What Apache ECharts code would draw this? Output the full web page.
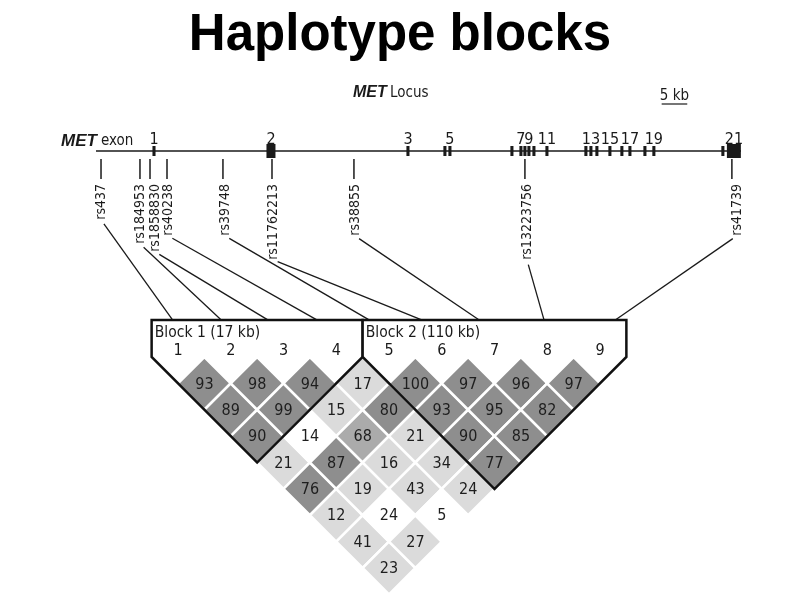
<!DOCTYPE html>
<html>
<head>
<meta charset="utf-8">
<script src="https://cdn.jsdelivr.net/npm/echarts@6/dist/echarts.min.js"></script>
<style>
html, body { margin: 0; padding: 0; background: #fff; }
#chart { width: 800px; height: 600px; }
</style>
</head>
<body>
<div id="chart"></div>
<script>
// MET locus: exons (kb from start of locus)
var locusKb = 126;
var exonNames = ['1', '2', '3', '4', '5', '6', '7', '8', '9', '10', '11', '12', '13', '14', '15', '16', '17', '18', '19', '20', '21'];
var exonLabels = ['1', '2', '3', '', '5', '', '7', '', '9', '', '11', '', '13', '', '15', '', '17', '', '19', '', '21'];
var exonKb = [11.33, 34.18, 60.94, 68.16, 69.14, 81.25, 83.01, 83.79, 84.57, 85.55, 88.09, 95.70, 96.68, 97.85, 100.39, 102.73, 104.30, 107.23, 108.98, 122.46, 124.61];
var exonLenKb = [0.6, 1.76, 0.6, 0.6, 0.6, 0.6, 0.6, 0.6, 0.6, 0.6, 0.6, 0.6, 0.6, 0.6, 0.6, 0.6, 0.6, 0.6, 0.6, 0.6, 2.73];

// SNPs
var snpNames = ['rs437', 'rs184953', 'rs1858830', 'rs40238', 'rs39748', 'rs11762213', 'rs38855', 'rs13223756', 'rs41739'];
var snpKb = [0.98, 8.59, 10.55, 13.87, 24.80, 34.38, 50.39, 83.79, 124.22];
// where each connector meets the top of the block header (in LD column units)
var snpAnchor = [0.90, 1.82, 2.71, 3.64, 4.63, 5.63, 6.71, 7.94, 9.29];

// pairwise LD, row k = SNP k+1 against SNP k+2 ... SNP 9
var ldValues = [
  [93, 89, 90, 21, 76, 12, 41, 23],
  [98, 99, 14, 87, 19, 24, 27],
  [94, 15, 68, 16, 43, 5],
  [17, 80, 21, 34, 24],
  [100, 93, 90, 77],
  [97, 95, 85],
  [96, 82],
  [97]
];
// shading class of each cell: d = strong, m = medium, l = weak, w = none
var ldShade = [
  ['d', 'd', 'd', 'l', 'd', 'l', 'l', 'l'],
  ['d', 'd', 'w', 'd', 'l', 'w', 'l'],
  ['d', 'l', 'm', 'l', 'l', 'w'],
  ['l', 'd', 'l', 'l', 'l'],
  ['d', 'd', 'd', 'd'],
  ['d', 'd', 'd'],
  ['d', 'd'],
  ['d']
];

// haplotype blocks
var blockNames = ['Block 1 (17 kb)', 'Block 2 (110 kb)'];
var blockStart = [1, 5];
var blockEnd = [4, 9];

var scaleBarKb = 5;

var NARROW = '"DejaVu Sans Condensed", "Liberation Sans Narrow", sans-serif';
var SANS = '"Liberation Sans", Arial, sans-serif';
var shadeColor = { d: '#8e8e8e', m: '#ababab', l: '#dbdbdb', w: '#ffffff' };
var labelNudge = [0, 0, 5, 1, 2, 1, 1, 2, 5]; // spread crowded rs labels a bit

var cells = [];
ldValues.forEach(function (row, k) {
  row.forEach(function (v, m) {
    cells.push({ i: k + 1, j: k + 2 + m, v: v, s: ldShade[k][m] });
  });
});

var chart = echarts.init(document.getElementById('chart'));

var option = {
  animation: false,
  grid: [
    { left: 96, right: 59, top: 141, height: 20 },
    { left: 125.25, right: 147.25, top: 304.25, height: 290.125 }
  ],
  xAxis: [
    { gridIndex: 0, type: 'value', min: 0, max: locusKb, show: false },
    { gridIndex: 1, type: 'value', min: 0, max: 10, show: false }
  ],
  yAxis: [
    { gridIndex: 0, type: 'value', min: -1, max: 1, show: false },
    { gridIndex: 1, type: 'value', min: -1, max: 4.5, inverse: true, show: false }
  ],
  series: [
    {
      // gene backbone
      type: 'line', xAxisIndex: 0, yAxisIndex: 0, z: 1, silent: true,
      data: [[0, 0], [locusKb, 0]], symbol: 'none',
      lineStyle: { color: '#1a1a1a', width: 1.5 }
    },
    {
      // exons
      type: 'custom', xAxisIndex: 0, yAxisIndex: 0, z: 2, silent: true,
      data: exonKb.map(function (kb, i) { return [kb, exonLenKb[i]]; }),
      renderItem: function (params, api) {
        var kb = api.value(0), len = api.value(1);
        var a = api.coord([kb - len / 2, 0]);
        var b = api.coord([kb + len / 2, 0]);
        var w = Math.max(b[0] - a[0], 3);
        var h = len > 1 ? 14 : 10;
        var cx = (a[0] + b[0]) / 2;
        return {
          type: 'group',
          children: [
            { type: 'rect', shape: { x: cx - w / 2, y: a[1] - h / 2, width: w, height: h }, style: { fill: '#1a1a1a' } },
            {
              type: 'text', x: cx, y: a[1] - 11,
              style: { text: exonLabels[params.dataIndex], font: '16px ' + NARROW, fill: '#1a1a1a', align: 'center', verticalAlign: 'middle' }
            }
          ]
        };
      }
    },
    {
      // SNP ticks and names
      type: 'custom', xAxisIndex: 0, yAxisIndex: 0, z: 2, silent: true,
      data: snpKb.map(function (kb, i) { return [kb, i]; }),
      renderItem: function (params, api) {
        var p = api.coord([api.value(0), 0]);
        var k = params.dataIndex;
        return {
          type: 'group',
          children: [
            { type: 'line', shape: { x1: p[0], y1: p[1] + 8, x2: p[0], y2: p[1] + 28 }, style: { stroke: '#1a1a1a', lineWidth: 1.5 } },
            {
              type: 'text', x: p[0] + labelNudge[k], y: p[1] + 33, rotation: Math.PI / 2,
              style: { text: snpNames[k], font: '14px ' + NARROW, fill: '#1a1a1a', align: 'right', verticalAlign: 'middle' }
            }
          ]
        };
      }
    },
    {
      // LD cells
      type: 'custom', xAxisIndex: 1, yAxisIndex: 1, z: 2, silent: true,
      data: cells.map(function (c) { return [c.i, c.j, c.v]; }),
      renderItem: function (params, api) {
        var c = cells[params.dataIndex];
        var cx = (c.i + c.j) / 2, cy = (c.j - c.i) / 2;
        var pts = [[cx - 0.5, cy], [cx, cy - 0.5], [cx + 0.5, cy], [cx, cy + 0.5]].map(function (q) { return api.coord(q); });
        var ctr = api.coord([cx, cy]);
        return {
          type: 'group',
          children: [
            { type: 'polygon', shape: { points: pts }, style: { fill: shadeColor[c.s], stroke: '#fff', lineWidth: 2.5 } },
            {
              type: 'text', x: ctr[0], y: ctr[1] + 1,
              style: { text: String(c.v), font: '16px ' + NARROW, fill: '#1e1e1e', align: 'center', verticalAlign: 'middle' }
            }
          ]
        };
      }
    },
    {
      // block outlines
      type: 'custom', xAxisIndex: 1, yAxisIndex: 1, z: 3, silent: true,
      data: blockStart.map(function (a, i) { return [a, blockEnd[i]]; }),
      renderItem: function (params, api) {
        var a = api.value(0), b = api.value(1);
        var tl = api.coord([a - 0.5, -0.7]);
        var br = api.coord([b + 0.5, 0]);
        var pts = [
          [a - 0.5, 0], [a - 0.5, -0.7], [b + 0.5, -0.7], [b + 0.5, 0], [(a + b) / 2, (b - a + 1) / 2]
        ].map(function (q) { return api.coord(q); });
        var lab = api.coord([a - 0.5 + 0.06, -0.45]);
        return {
          type: 'group',
          children: [
            { type: 'rect', shape: { x: tl[0], y: tl[1], width: br[0] - tl[0], height: br[1] - tl[1] }, style: { fill: '#fff' } },
            { type: 'polygon', shape: { points: pts }, style: { fill: 'none', stroke: '#111', lineWidth: 2.5, lineJoin: 'miter' } },
            {
              type: 'text', x: lab[0], y: lab[1],
              style: { text: blockNames[params.dataIndex], font: '15.5px ' + NARROW, fill: '#1a1a1a', align: 'left', verticalAlign: 'middle' }
            }
          ]
        };
      }
    },
    {
      // SNP column numbers
      type: 'custom', xAxisIndex: 1, yAxisIndex: 1, z: 4, silent: true,
      data: snpNames.map(function (n, k) { return [k + 1, -0.12]; }),
      renderItem: function (params, api) {
        var p = api.coord([api.value(0), api.value(1)]);
        return {
          type: 'text', x: p[0], y: p[1],
          style: { text: String(params.dataIndex + 1), font: '16px ' + NARROW, fill: '#1a1a1a', align: 'center', verticalAlign: 'middle' }
        };
      }
    }
  ]
};

chart.setOption(option);

// second pass: connectors between map and LD plot, scale bar, captions
var ctx = document.createElement('canvas').getContext('2d');
ctx.font = '14px ' + NARROW;
var graphics = [];
snpNames.forEach(function (n, k) {
  var top = chart.convertToPixel({ gridIndex: 0 }, [snpKb[k], 0]);
  var bot = chart.convertToPixel({ gridIndex: 1 }, [snpAnchor[k], -0.7]);
  var x0 = top[0] + labelNudge[k];
  var y0 = top[1] + 33 + ctx.measureText(n).width;
  var dx = bot[0] - x0, dy = bot[1] - y0, len = Math.sqrt(dx * dx + dy * dy);
  graphics.push({
    type: 'line', silent: true,
    shape: { x1: x0 + dx / len * 5, y1: y0 + dy / len * 5, x2: bot[0], y2: bot[1] },
    style: { stroke: '#1a1a1a', lineWidth: 1.3 }
  });
});

var s0 = chart.convertToPixel({ gridIndex: 0 }, [110.5, 0]);
var s1 = chart.convertToPixel({ gridIndex: 0 }, [110.5 + scaleBarKb, 0]);
graphics.push({ type: 'line', shape: { x1: s0[0], y1: 104, x2: s1[0], y2: 104 }, style: { stroke: '#1a1a1a', lineWidth: 1.2 } });
graphics.push({ type: 'text', x: (s0[0] + s1[0]) / 2, y: 96, style: { text: scaleBarKb + ' kb', font: '15px ' + NARROW, fill: '#1a1a1a', align: 'center', verticalAlign: 'middle' } });

graphics.push({ type: 'text', x: 400, y: 36, style: { text: 'Haplotype blocks', font: 'bold 51px ' + SANS, fill: '#000', align: 'center', verticalAlign: 'middle' } });
graphics.push({ type: 'text', x: 353, y: 93, style: { text: 'MET', font: 'italic bold 16px ' + SANS, fill: '#1a1a1a', align: 'left', verticalAlign: 'middle' } });
graphics.push({ type: 'text', x: 390, y: 93, style: { text: 'Locus', font: '15px ' + NARROW, fill: '#1a1a1a', align: 'left', verticalAlign: 'middle' } });
graphics.push({ type: 'text', x: 61, y: 141, style: { text: 'MET', font: 'italic bold 17px ' + SANS, fill: '#1a1a1a', align: 'left', verticalAlign: 'middle' } });
graphics.push({ type: 'text', x: 101, y: 141, style: { text: 'exon', font: '15px ' + NARROW, fill: '#1a1a1a', align: 'left', verticalAlign: 'middle' } });

chart.setOption({ graphic: graphics });
</script>
</body>
</html>
